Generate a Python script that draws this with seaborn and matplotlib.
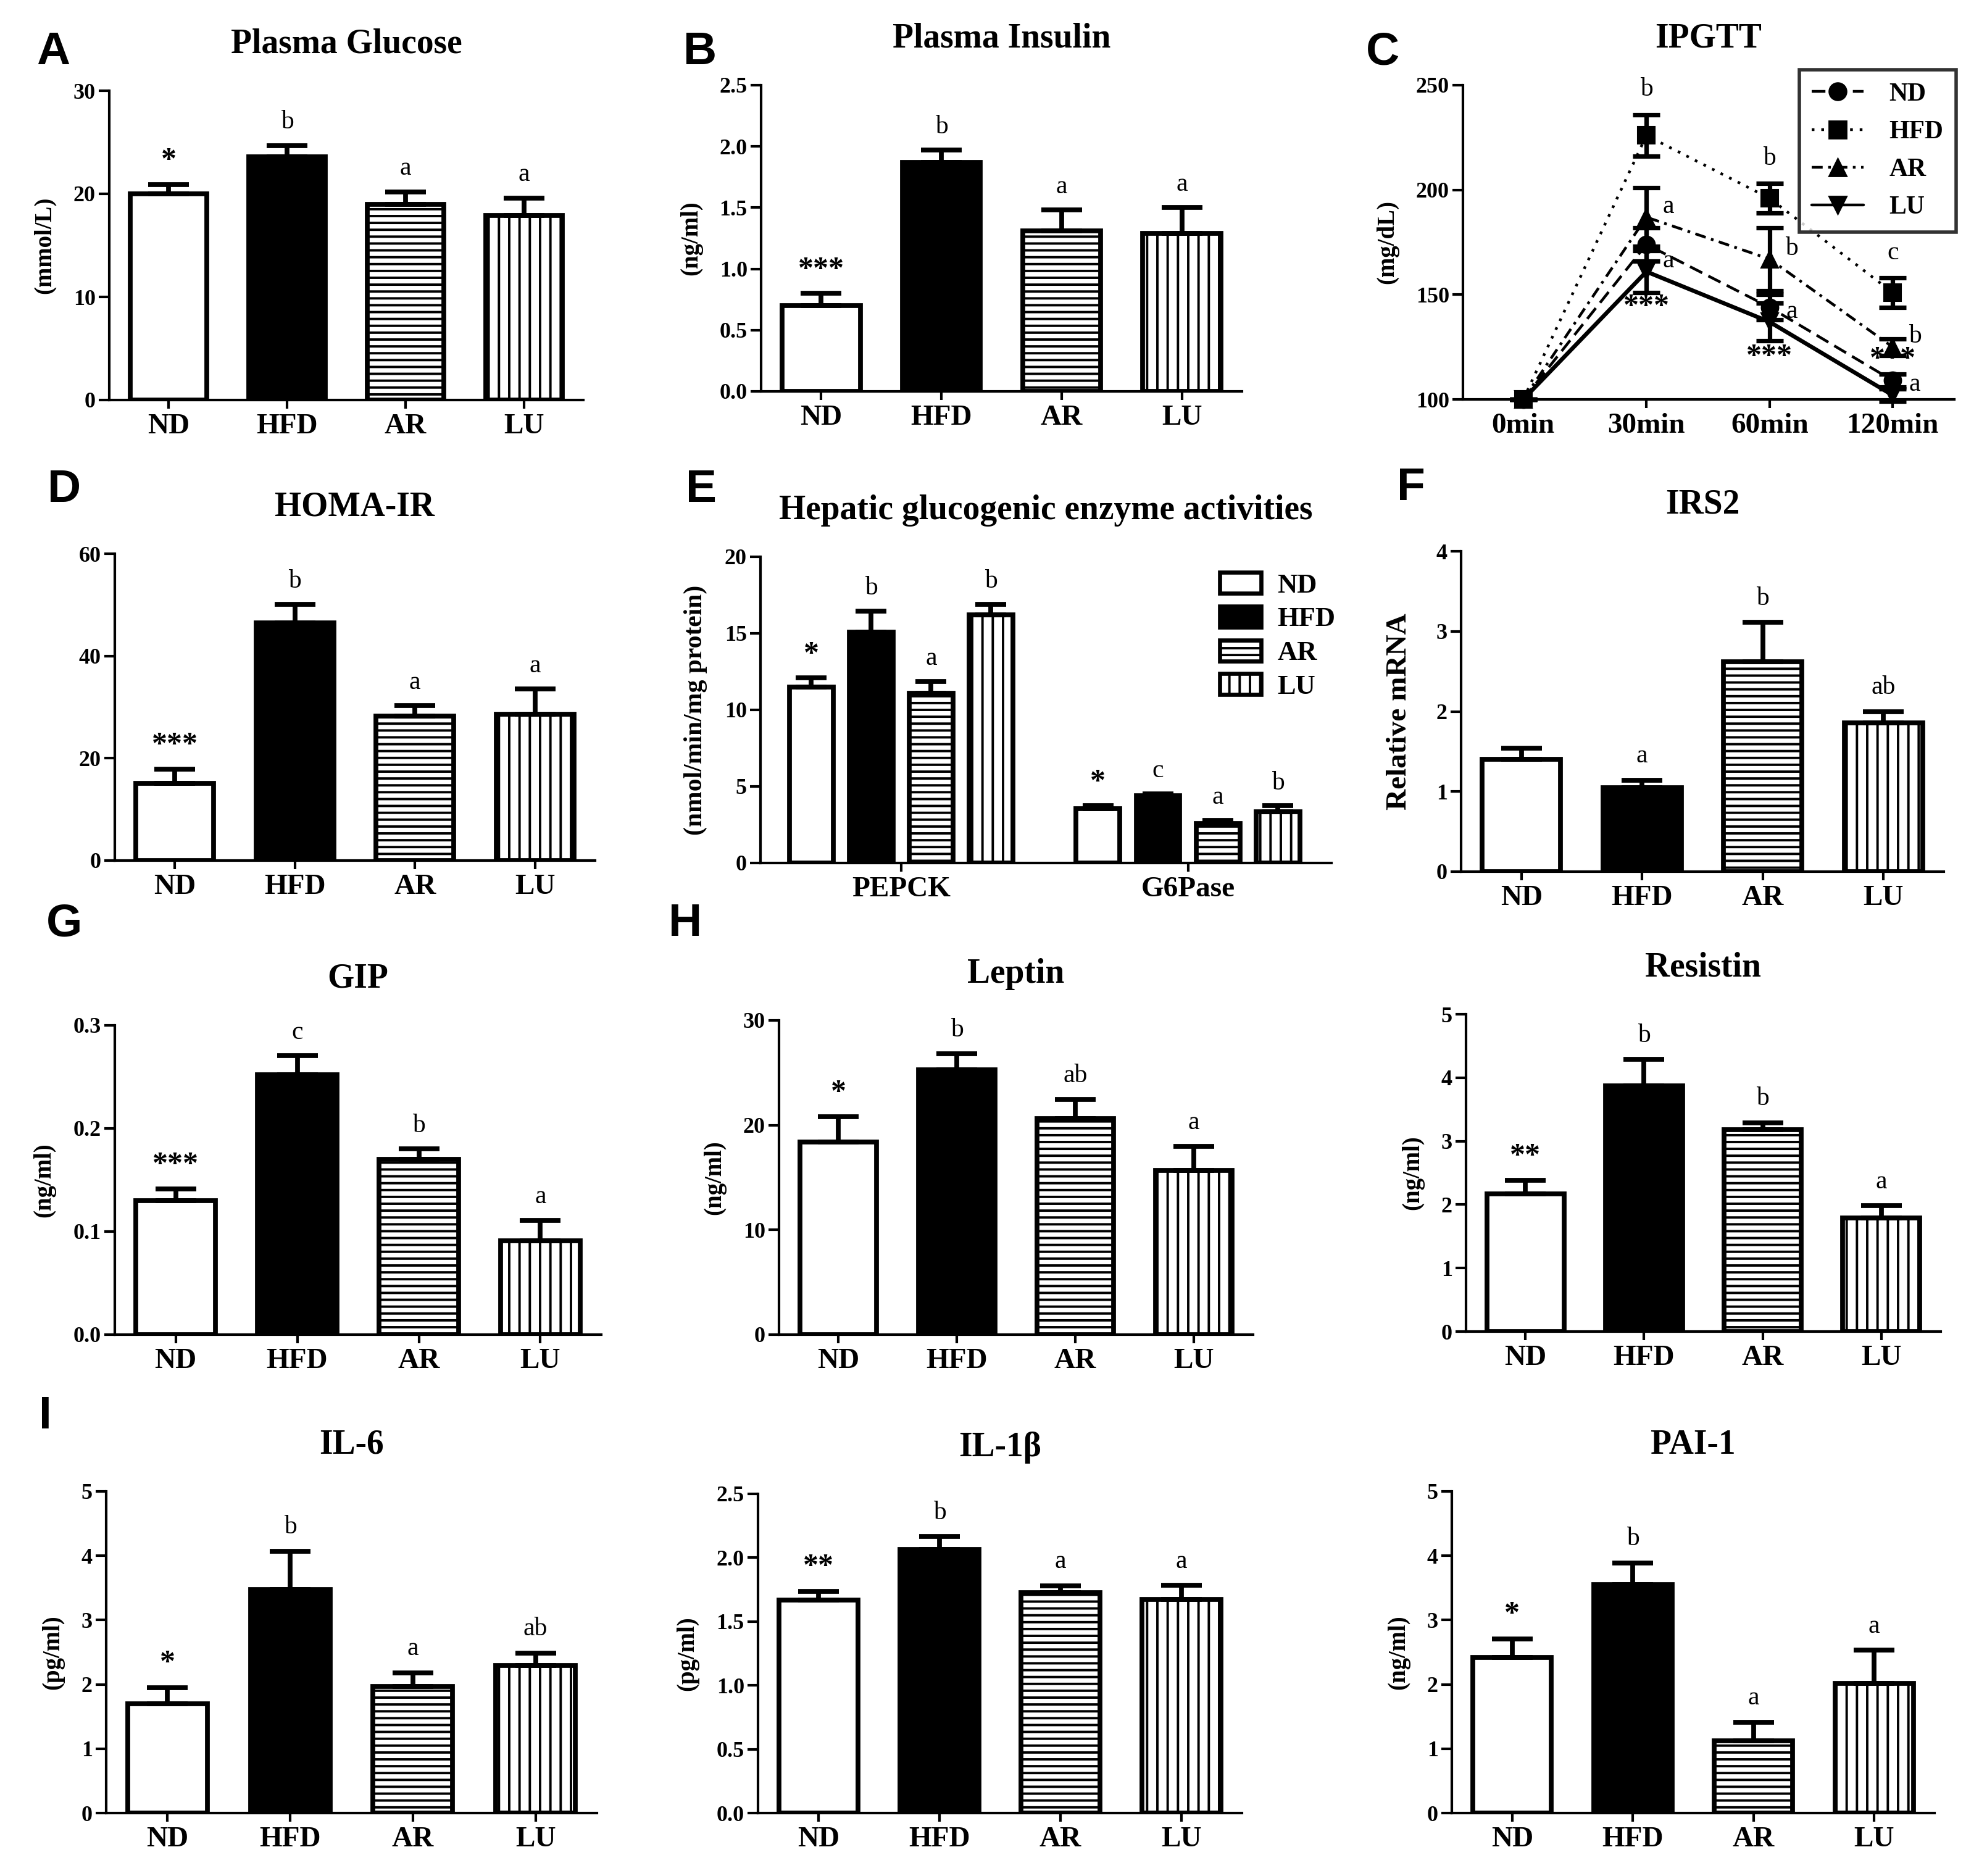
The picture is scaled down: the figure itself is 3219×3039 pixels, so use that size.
import numpy as np
import pandas as pd
import matplotlib
matplotlib.use("Agg")
import matplotlib.pyplot as plt
import seaborn as sns
from matplotlib.patches import Patch
from matplotlib.lines import Line2D

# ---------------- data ----------------
groups = ["ND", "HFD", "AR", "LU"]

glucose = [20.0, 23.6, 19.0, 17.9]
glucose_sem = [0.9, 1.1, 1.2, 1.7]
glucose_sig = ["*", "b", "a", "a"]

insulin = [0.70, 1.87, 1.31, 1.29]
insulin_sem = [0.10, 0.10, 0.17, 0.21]
insulin_sig = ["***", "b", "a", "a"]

times = ["0min", "30min", "60min", "120min"]
ipgtt_nd = [100, 174, 144, 109]
ipgtt_nd_sem = [0, 8, 6, 3]
ipgtt_hfd = [100, 226, 196, 151]
ipgtt_hfd_sem = [0, 10, 7, 7]
ipgtt_ar = [100, 187, 167, 125]
ipgtt_ar_sem = [0, 14, 15, 4]
ipgtt_lu = [100, 161, 137, 102]
ipgtt_lu_sem = [0, 10, 9, 3]
ipgtt_nd_sig = ["", "***", "***", "***"]
ipgtt_hfd_sig = ["", "b", "b", "c"]
ipgtt_ar_sig = ["", "a", "b", "b"]
ipgtt_lu_sig = ["", "a", "a", "a"]

homa = [15.1, 46.5, 28.2, 28.6]
homa_sem = [2.8, 3.6, 2.1, 5.0]
homa_sig = ["***", "b", "a", "a"]

enzymes = ["PEPCK", "G6Pase"]
pepck = [11.5, 15.1, 11.1, 16.2]
pepck_sem = [0.6, 1.35, 0.75, 0.7]
pepck_sig = ["*", "b", "a", "b"]
g6pase = [3.55, 4.4, 2.6, 3.35]
g6pase_sem = [0.2, 0.1, 0.2, 0.38]
g6pase_sig = ["*", "c", "a", "b"]

irs2 = [1.40, 1.05, 2.62, 1.86]
irs2_sem = [0.14, 0.09, 0.49, 0.14]
irs2_sig = ["", "a", "b", "ab"]

gip = [0.130, 0.252, 0.170, 0.091]
gip_sem = [0.0115, 0.0185, 0.010, 0.020]
gip_sig = ["***", "c", "b", "a"]

leptin = [18.4, 25.3, 20.6, 15.65]
leptin_sem = [2.4, 1.5, 1.85, 2.35]
leptin_sig = ["*", "b", "ab", "a"]

resistin = [2.17, 3.87, 3.18, 1.79]
resistin_sem = [0.21, 0.42, 0.11, 0.19]
resistin_sig = ["**", "b", "b", "a"]

il6 = [1.70, 3.47, 1.97, 2.29]
il6_sem = [0.25, 0.60, 0.21, 0.20]
il6_sig = ["*", "b", "a", "ab"]

il1b = [1.667, 2.066, 1.724, 1.672]
il1b_sem = [0.07, 0.10, 0.057, 0.11]
il1b_sig = ["**", "b", "a", "a"]

pai1 = [2.42, 3.55, 1.12, 2.02]
pai1_sem = [0.29, 0.34, 0.29, 0.51]
pai1_sig = ["*", "b", "a", "a"]

# ---------------- style ----------------
sns.set_theme(style="ticks", rc={
    "axes.edgecolor": "black", "xtick.color": "black", "ytick.color": "black",
    "text.color": "black", "axes.labelcolor": "black", "axes.linewidth": 1.5,
})
plt.rcParams["font.family"] = ["Liberation Serif", "DejaVu Serif"]
plt.rcParams["hatch.linewidth"] = 1.4
plt.rcParams["hatch.color"] = "black"

W, H = 3219, 3039
DPI = 200
fig = plt.figure(figsize=(W / DPI, H / DPI), dpi=DPI)

faces = ["white", "black", "white", "white"]
hatches = [None, None, "---", "||"]
EDGE_LW = 2.8


def sig_text(ax, x, y, s, ha="center"):
    if s.startswith("*"):
        ax.text(x, y, s, ha=ha, va="center", fontsize=18, fontweight="bold", clip_on=False)
    else:
        ax.text(x, y, s, ha=ha, va="center", fontsize=15, clip_on=False)


def axes_px(x0, x1, y0, y1):
    return fig.add_axes([x0 / W, 1 - y1 / H, (x1 - x0) / W, (y1 - y0) / H])


def style_axes(ax, ymax, yticks, fmt, ylabel, title, ylabel_size=14, ymin=0, labelpad=10):
    ax.set_ylim(ymin, ymax)
    ax.set_yticks(yticks)
    ax.set_yticklabels([fmt.format(t) for t in yticks])
    ax.set_xlabel("")
    ax.set_ylabel(ylabel, fontsize=ylabel_size, fontweight="bold", labelpad=labelpad)
    sns.despine(ax=ax)
    ax.tick_params(axis="y", length=6, width=1.5, labelsize=13, pad=2)
    ax.tick_params(axis="x", length=5, width=1.5, labelsize=17, pad=3)
    for lbl in ax.get_xticklabels() + ax.get_yticklabels():
        lbl.set_fontweight("bold")
    ax.set_title(title, fontsize=20, fontweight="bold", pad=22)


def bar_panel(ax, means, sems, sigs, ymax, yticks, fmt, ylabel, title, **kw):
    df = pd.DataFrame({"group": groups, "value": means})
    sns.barplot(data=df, x="group", y="value", order=groups, ax=ax, color="white",
                edgecolor="black", linewidth=EDGE_LW, width=0.65, errorbar=None)
    for p, fc, h in zip(ax.patches, faces, hatches):
        p.set_facecolor(fc)
        p.set_edgecolor("black")
        if h:
            p.set_hatch(h)
    x = np.arange(len(groups))
    ax.errorbar(x, means, yerr=[np.zeros(len(means)), sems], fmt="none", ecolor="black",
                elinewidth=EDGE_LW, capsize=12, capthick=EDGE_LW)
    for i, s in enumerate(sigs):
        if s:
            sig_text(ax, x[i], means[i] + sems[i] + 0.075 * ymax, s)
    ax.set_xlim(-0.5, 3.5)
    style_axes(ax, ymax, yticks, fmt, ylabel, title, **kw)


# ---------------- Row 1 ----------------
axA = axes_px(177, 945, 147, 648)
bar_panel(axA, glucose, glucose_sem, glucose_sig, 30, [0, 10, 20, 30], "{:g}",
          "(mmol/L)", "Plasma Glucose")

axB = axes_px(1233, 2012, 138, 634)
bar_panel(axB, insulin, insulin_sem, insulin_sig, 2.5, [0, 0.5, 1.0, 1.5, 2.0, 2.5], "{:.1f}",
          "(ng/ml)", "Plasma Insulin")

# IPGTT
axC = axes_px(2370, 3166, 138, 647)
pos = np.arange(len(times))
series = {
    "ND": (ipgtt_nd, ipgtt_nd_sem, "o", (0, (5, 2.5))),
    "HFD": (ipgtt_hfd, ipgtt_hfd_sem, "s", (0, (1, 2.5))),
    "AR": (ipgtt_ar, ipgtt_ar_sem, "^", (0, (4, 2, 1, 2))),
    "LU": (ipgtt_lu, ipgtt_lu_sem, "v", "-"),
}
long_rows = []
for g, (vals, errs, m, ls) in series.items():
    for p_, t, v, e in zip(pos, times, vals, errs):
        long_rows.append({"group": g, "pos": p_, "time": t, "value": v, "sem": e})
ipg = pd.DataFrame(long_rows)
legend_handles = []
for g, (vals, errs, m, ls) in series.items():
    sub = ipg[ipg.group == g]
    sns.lineplot(data=sub, x="pos", y="value", ax=axC, color="black", marker=m,
                 markersize=10, markeredgecolor="black", linewidth=1.6 if g != "LU" else 2.4,
                 errorbar=None, clip_on=False)
    axC.lines[-1].set_linestyle(ls)
    axC.errorbar(sub.pos, sub.value, yerr=sub["sem"], fmt="none", ecolor="black",
                 elinewidth=2.6, capsize=8, capthick=2.6, clip_on=False)
    legend_handles.append(Line2D([0], [0], color="black", marker=m, markersize=10,
                                 linestyle=ls, linewidth=1.6))
for i in range(len(times)):
    if ipgtt_hfd_sig[i]:
        sig_text(axC, pos[i], ipgtt_hfd[i] + ipgtt_hfd_sem[i] + 12, ipgtt_hfd_sig[i])
    if ipgtt_ar_sig[i]:
        sig_text(axC, pos[i] + 0.18, ipgtt_ar[i] + 5, ipgtt_ar_sig[i])
    if ipgtt_lu_sig[i]:
        sig_text(axC, pos[i] + 0.18, ipgtt_lu[i] + 5, ipgtt_lu_sig[i])
    if ipgtt_nd_sig[i]:
        yv = ipgtt_lu[i] - 17 if ipgtt_lu[i] - 17 > 110 else ipgtt_lu[i] + 17
        sig_text(axC, pos[i], yv, ipgtt_nd_sig[i])
axC.set_xlim(-0.49, 3.5)
axC.set_xticks(pos)
axC.set_xticklabels(times)
style_axes(axC, 250, [100, 150, 200, 250], "{:g}", "(mg/dL)", "IPGTT", ymin=100)
legC = axC.legend(legend_handles, groups, loc="upper right", bbox_to_anchor=(1.03, 1.09),
                  prop={"weight": "bold", "size": 15}, frameon=True,
                  fancybox=False, edgecolor="black", handlelength=2.0, labelspacing=0.55,
                  borderpad=0.5, handletextpad=1.0)
legC.get_frame().set_linewidth(2.0)

# ---------------- Row 2 ----------------
axD = axes_px(186, 964, 897, 1394)
bar_panel(axD, homa, homa_sem, homa_sig, 60, [0, 20, 40, 60], "{:g}", "", "HOMA-IR")

axE = axes_px(1232, 2157, 902, 1398)
erows = []
for enz, vals in zip(enzymes, [pepck, g6pase]):
    for g, v in zip(groups, vals):
        erows.append({"enzyme": enz, "group": g, "value": v})
edf = pd.DataFrame(erows)
sns.barplot(data=edf, x="enzyme", y="value", hue="group", order=enzymes, hue_order=groups,
            palette=["white"] * 4, edgecolor="black", linewidth=EDGE_LW, width=0.836, gap=0.27,
            errorbar=None, legend=False, ax=axE)
esems = [pepck_sem, g6pase_sem]
esigs = [pepck_sig, g6pase_sig]
emeans = [pepck, g6pase]
for gi, (cont, fc, h) in enumerate(zip(axE.containers, faces, hatches)):
    for ei, bar in enumerate(cont):
        bar.set_facecolor(fc)
        bar.set_edgecolor("black")
        if h:
            bar.set_hatch(h)
        xc = bar.get_x() + bar.get_width() / 2
        m = emeans[ei][gi]
        s = esems[ei][gi]
        axE.errorbar([xc], [m], yerr=[[0], [s]], fmt="none", ecolor="black",
                     elinewidth=EDGE_LW, capsize=9, capthick=EDGE_LW)
        sig_text(axE, xc, m + s + 0.075 * 20, esigs[ei][gi])
axE.set_xlim(-0.49, 1.5)
style_axes(axE, 20, [0, 5, 10, 15, 20], "{:g}", "(nmol/min/mg protein)",
           "Hepatic glucogenic enzyme activities", ylabel_size=15)
e_handles = [Patch(facecolor=fc, edgecolor="black", hatch=h, linewidth=2.4)
             for fc, h in zip(faces, hatches)]
axE.legend(e_handles, groups, loc="upper right", bbox_to_anchor=(1.05, 1.03), frameon=False,
           prop={"weight": "bold", "size": 16}, handlelength=1.5, handleheight=0.8,
           labelspacing=0.3, handletextpad=0.6)

axF = axes_px(2367, 3149, 893, 1412)
bar_panel(axF, irs2, irs2_sem, irs2_sig, 4, [0, 1, 2, 3, 4], "{:g}", "Relative mRNA", "IRS2",
          ylabel_size=17, labelpad=14)

# ---------------- Row 3 ----------------
axG = axes_px(186, 974, 1661, 2162)
bar_panel(axG, gip, gip_sem, gip_sig, 0.3, [0, 0.1, 0.2, 0.3], "{:.1f}", "(ng/ml)", "GIP")

axH = axes_px(1262, 2030, 1653, 2162)
bar_panel(axH, leptin, leptin_sem, leptin_sig, 30, [0, 10, 20, 30], "{:g}", "(ng/ml)", "Leptin")

axR = axes_px(2375, 3144, 1643, 2157)
bar_panel(axR, resistin, resistin_sem, resistin_sig, 5, [0, 1, 2, 3, 4, 5], "{:g}", "(ng/ml)",
          "Resistin")

# ---------------- Row 4 ----------------
axI1 = axes_px(172, 967, 2416, 2937)
bar_panel(axI1, il6, il6_sem, il6_sig, 5, [0, 1, 2, 3, 4, 5], "{:g}", "(pg/ml)", "IL-6")

axI2 = axes_px(1228, 2012, 2420, 2937)
bar_panel(axI2, il1b, il1b_sem, il1b_sig, 2.5, [0, 0.5, 1.0, 1.5, 2.0, 2.5], "{:.1f}",
          "(pg/ml)", "IL-1β")

axI3 = axes_px(2352, 3134, 2416, 2937)
bar_panel(axI3, pai1, pai1_sem, pai1_sig, 5, [0, 1, 2, 3, 4, 5], "{:g}", "(ng/ml)", "PAI-1")

# ---------------- panel letters ----------------
letters = [("A", 86, 85), ("B", 1134, 85), ("C", 2240, 85), ("D", 104, 793),
           ("E", 1136, 793), ("F", 2286, 790), ("G", 104, 1497), ("H", 1110, 1496),
           ("I", 73, 2294)]
for t, x, y in letters:
    fig.text(x / W, 1 - y / H, t, ha="center", va="center", fontsize=27, fontweight="bold",
             family=["Liberation Sans", "DejaVu Sans"])

fig.savefig("out.png", dpi=DPI, facecolor="white")
